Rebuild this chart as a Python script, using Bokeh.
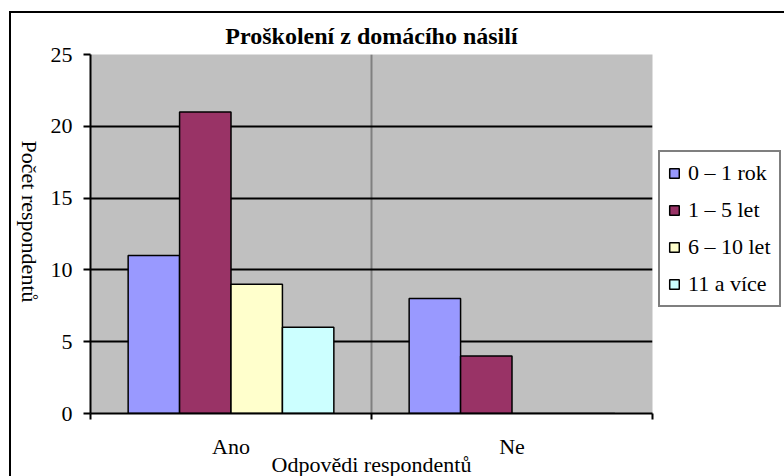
import math
from bokeh.plotting import figure
from bokeh.models import Range1d, FixedTicker, Grid, Legend, LegendItem, LinearAxis
from bokeh.embed import file_html
from bokeh.resources import INLINE

# ---- data ----
categories = ["Ano", "Ne"]
series_names = ["0 – 1 rok", "1 – 5 let", "6 – 10 let", "11 a více"]
vals_0_1 = [11, 8]
vals_1_5 = [21, 4]
vals_6_10 = [9, 0]
vals_11 = [6, 0]
series_values = [vals_0_1, vals_1_5, vals_6_10, vals_11]
y_ticks = [0, 5, 10, 15, 20, 25]

title_text = "Proškolení z domácího násilí"
x_title = "Odpovědi respondentů"
y_title = "Počet respondentů"

colors = ["#9999FF", "#993366", "#FFFFCC", "#CCFFFF"]
FONT = "Liberation Serif"
FS = "22px"
Y_TITLE_END = 7.73   # layout position (y units) where the rotated y title ends

ncat = len(categories)
p = figure(frame_width=562, frame_height=359,
           x_range=Range1d(0, ncat), y_range=Range1d(y_ticks[0], y_ticks[-1]),
           output_backend="svg", toolbar_location=None,
           min_border_left=90, min_border_right=132,
           min_border_top=54, min_border_bottom=62)
p.background_fill_color = "#C0C0C0"
p.border_fill_color = None
p.outline_line_color = None
p.styles = {"box-shadow": "inset 9px 11px 0 0 white, inset 11px 13px 0 0 black"}

# grids
p.xgrid.ticker = FixedTicker(ticks=[float(i) for i in range(1, ncat + 1)])
p.xgrid.grid_line_color = "#808080"
p.xgrid.grid_line_width = 2
p.ygrid.ticker = FixedTicker(ticks=y_ticks[1:-1])
p.ygrid.grid_line_color = "black"
p.ygrid.grid_line_width = 2
top_grid = Grid(dimension=1, ticker=FixedTicker(ticks=[y_ticks[-1]]),
                grid_line_color="#808080", grid_line_width=3)
p.add_layout(top_grid)

# bars
n = len(series_values)
w = 0.183
renderers = []
for j, vals in enumerate(series_values):
    off = (j - (n - 1) / 2) * w
    xs = [i + 0.5 + off for i in range(ncat)]
    r = p.vbar(x=xs, top=vals, width=w, fill_color=colors[j],
               line_color="black", line_width=1.5)
    renderers.append(r)

# x axis
xa = p.xaxis[0]
xa.ticker = FixedTicker(ticks=[i + 0.5 for i in range(ncat)],
                        minor_ticks=[float(i) for i in range(ncat + 1)])
xa.major_label_overrides = {i + 0.5: c for i, c in enumerate(categories)}
xa.major_tick_line_color = None
xa.major_tick_out = 0
xa.major_tick_in = 0
xa.minor_tick_line_color = "black"
xa.minor_tick_line_width = 2
xa.minor_tick_out = 6
xa.minor_tick_in = 0
xa.axis_line_color = "black"
xa.axis_line_width = 2
xa.major_label_text_font = FONT
xa.major_label_text_font_size = FS
xa.major_label_text_color = "black"
xa.major_label_standoff = 14
xa.axis_label = x_title
xa.axis_label_text_font = FONT
xa.axis_label_text_font_size = FS
xa.axis_label_text_font_style = "normal"
xa.axis_label_text_color = "black"
xa.axis_label_standoff = -10

# y axis
ya = p.yaxis[0]
ya.ticker = FixedTicker(ticks=y_ticks)
ya.minor_tick_line_color = None
ya.major_tick_out = 7
ya.major_tick_in = 0
ya.major_tick_line_color = "black"
ya.major_tick_line_width = 2
ya.axis_line_color = "black"
ya.axis_line_width = 2
ya.major_label_text_font = FONT
ya.major_label_text_font_size = FS
ya.major_label_text_color = "black"
ya.major_label_standoff = 11

# y title: rotated clockwise (reads top to bottom), drawn by a bare extra axis
yt = LinearAxis(ticker=FixedTicker(ticks=[Y_TITLE_END]),
                major_label_overrides={Y_TITLE_END: y_title},
                major_label_orientation=-math.pi / 2,
                major_tick_line_color=None, major_tick_out=0, major_tick_in=0,
                minor_tick_line_color=None, axis_line_color=None,
                major_label_text_font=FONT, major_label_text_font_size=FS,
                major_label_text_color="black", major_label_standoff=18)
p.add_layout(yt, "left")

# title
p.title.text = title_text
p.title.text_font = FONT
p.title.text_font_size = "24px"
p.title.text_font_style = "bold"
p.title.text_color = "black"
p.title.align = "center"
p.title.standoff = 12

# legend
legend = Legend(items=[LegendItem(label=nm, renderers=[r]) for nm, r in zip(series_names, renderers)],
                location=(6, 106))
legend.border_line_color = "black"
legend.border_line_width = 2
legend.background_fill_color = "white"
legend.background_fill_alpha = 1
legend.label_text_font = FONT
legend.label_text_font_size = FS
legend.label_text_color = "black"
legend.glyph_width = 12
legend.glyph_height = 12
legend.label_standoff = 8
legend.label_height = 22
legend.spacing = 11
legend.padding = 8
legend.margin = 0
p.add_layout(legend, "right")

open("out.html", "w").write(file_html(p, INLINE))
